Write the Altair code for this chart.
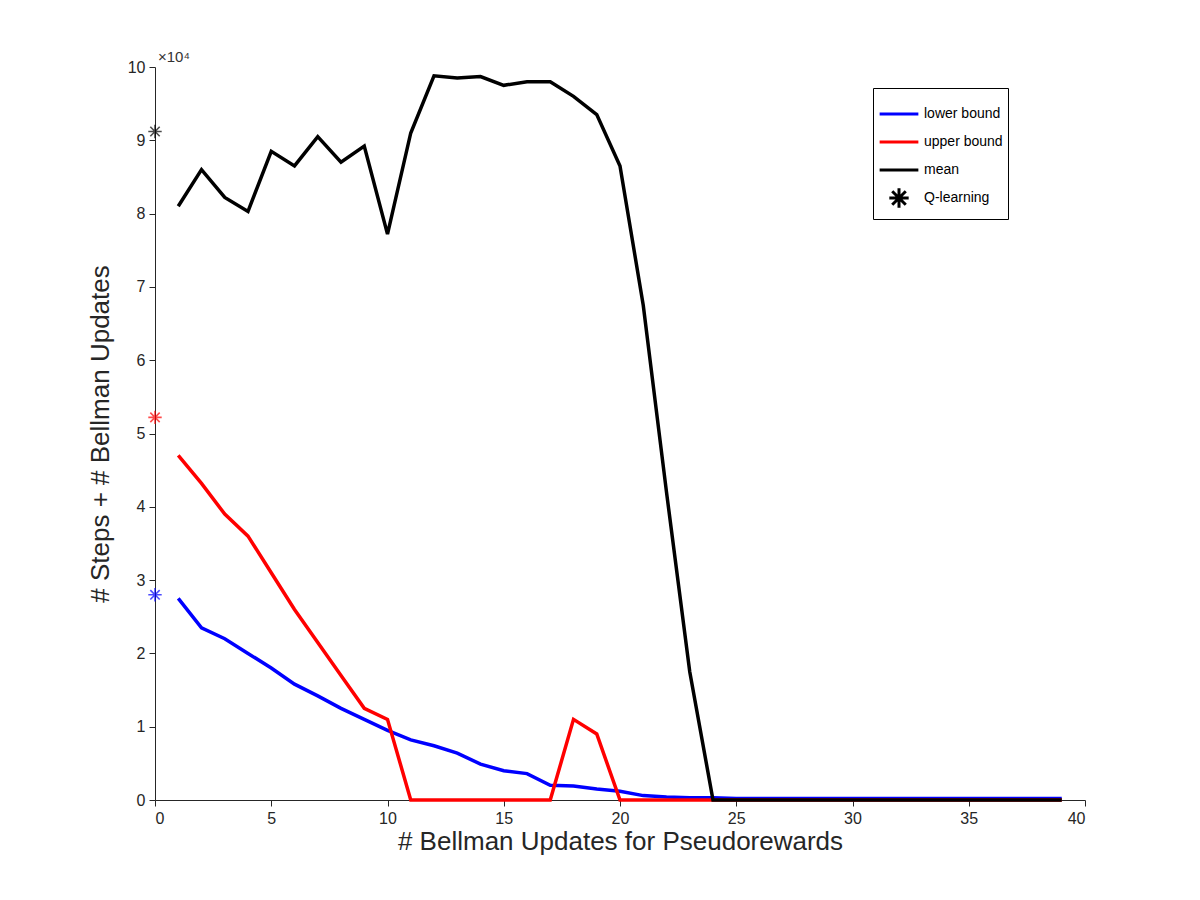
import altair as alt
import pandas as pd

# values in units of 1e4
steps = list(range(1, 40))
lower = [2.75, 2.35, 2.2, 2.0, 1.8, 1.58, 1.42, 1.25, 1.1, 0.95, 0.82, 0.74, 0.64, 0.49,
         0.4, 0.36, 0.2, 0.19, 0.15, 0.12, 0.06, 0.04, 0.03, 0.03] + [0.02] * 15
upper = [4.7, 4.32, 3.9, 3.6, 3.1, 2.6, 2.15, 1.7, 1.25, 1.1, 0, 0, 0, 0, 0, 0, 0,
         1.1, 0.9] + [0] * 20
mean = [8.1, 8.6, 8.22, 8.03, 8.85, 8.65, 9.05, 8.7, 8.92, 7.72, 9.1, 9.88, 9.85, 9.87,
        9.75, 9.8, 9.8, 9.6, 9.35, 8.65, 6.75, 4.2, 1.75, 0] + [0] * 15
q_series = ["lower bound", "upper bound", "mean"]
q_values = [2.8, 5.22, 9.12]

series = ["lower bound", "upper bound", "mean", "Q-learning"]
colors = ["#0000ff", "#ff0000", "#000000", "#000000"]
dash = "M-1,0L1,0"
star = "M-1,0L1,0M0,-1L0,1M-0.7,-0.7L0.7,0.7M-0.7,0.7L0.7,-0.7"
small_star = "M-0.5,0L0.5,0M0,-0.5L0,0.5M-0.35,-0.35L0.35,0.35M-0.35,0.35L0.35,-0.35"
shapes = [dash, dash, dash, small_star]

lines = pd.DataFrame({
    "x": steps * 3,
    "y": lower + upper + mean,
    "series": ["lower bound"] * 39 + ["upper bound"] * 39 + ["mean"] * 39,
})
stars = pd.DataFrame({"x": [0] * 3, "y": q_values, "series": q_series})

font = "Liberation Sans"
color_scale = alt.Scale(domain=series, range=colors)
color = alt.Color("series:N", scale=color_scale,
                  legend=alt.Legend(title=None, orient="none", legendX=718, legendY=21,
                                    strokeColor="black", fillColor="white", padding=5,
                                    labelFontSize=14, labelFont=font, labelColor="black",
                                    symbolSize=1500, symbolStrokeWidth=3,
                                    symbolFillColor="transparent", rowPadding=0))
shape = alt.Shape("series:N", scale=alt.Scale(domain=series, range=shapes))

x = alt.X("x:Q", scale=alt.Scale(domain=[0, 40], nice=False),
          axis=alt.Axis(values=list(range(0, 41, 5)), format="d",
                        title="# Bellman Updates for Pseudorewards"))
y = alt.Y("y:Q", scale=alt.Scale(domain=[0, 10], nice=False),
          axis=alt.Axis(values=list(range(0, 11)), format="d",
                        title="# Steps + # Bellman Updates"))

line_layer = alt.Chart(lines).mark_line(strokeWidth=3.5).encode(
    x=x, y=y, color=color, shape=shape, detail="series:N", order="x:Q")
star_layer = alt.Chart(stars).mark_point(filled=False, size=180, strokeWidth=1.6,
                                         clip=False).encode(
    x="x:Q", y="y:Q", color=alt.Color("series:N", scale=color_scale, legend=None),
    shape=alt.value(star))
exp_text = alt.Chart(pd.DataFrame({"t": ["×10⁴"]})).mark_text(
    font=font, fontSize=15, align="left", color="#333").encode(
    text="t:N", x=alt.value(3), y=alt.value(-10))

chart = (
    alt.layer(line_layer, star_layer, exp_text)
    .properties(width=930, height=733, autosize="none",
                padding={"left": 147, "top": 59, "right": 107, "bottom": 92})
    .configure_view(stroke=None)
    .configure_axis(grid=False, domainColor="#262626", tickColor="#262626",
                    labelFont=font, labelFontSize=16, labelColor="#262626",
                    titleFont=font, titleFontSize=26, titleFontWeight="normal",
                    titleColor="#262626", tickSize=6, labelPadding=4)
    .configure_axisY(titlePadding=14)
    .configure_axisX(titlePadding=2)
)
chart.save("out.html", embed_options={"renderer": "svg", "actions": False})
